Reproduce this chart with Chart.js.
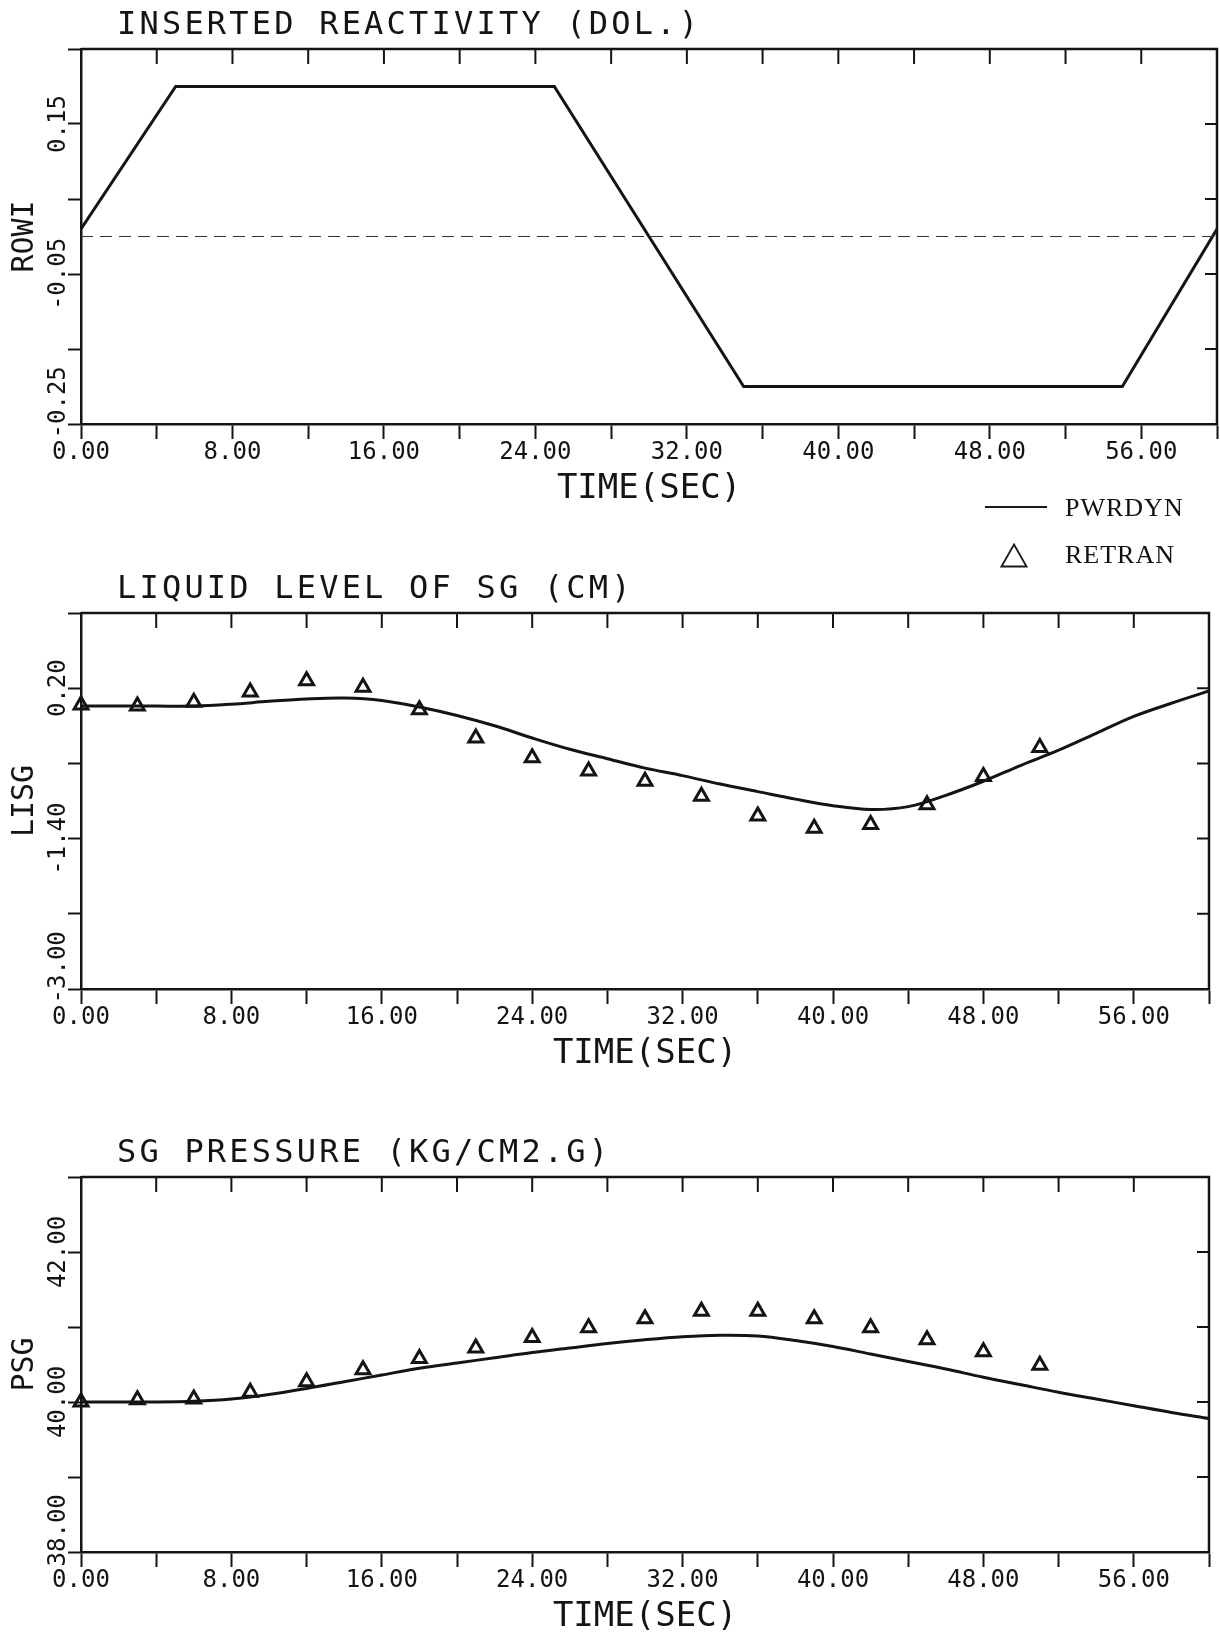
<!DOCTYPE html>
<html>
<head>
<meta charset="utf-8">
<script src="https://cdn.jsdelivr.net/npm/chart.js@4.4.1/dist/chart.umd.min.js"></script>
<style>
html,body{margin:0;padding:0;background:#fff;}
#page{position:relative;width:1220px;height:1634px;overflow:hidden;background:#fff;}
canvas{position:absolute;left:0;}
.lg{position:absolute;font-family:"Liberation Serif",serif;font-size:26px;line-height:31px;color:#111;white-space:nowrap;letter-spacing:1px;}
</style>
</head>
<body>
<div id="page">
  <canvas id="c1" width="1220" height="506" style="top:0px"></canvas>
  <canvas id="c2" width="1220" height="511" style="top:560px"></canvas>
  <canvas id="c3" width="1220" height="514" style="top:1120px"></canvas>
  <div style="position:absolute;left:985px;top:506px;width:62px;border-top:2px solid #1a1a1a;"></div>
  <div class="lg" style="left:1065px;top:492px;">PWRDYN</div>
  <svg style="position:absolute;left:1000px;top:543px" width="28" height="25"><polygon points="14,1.5 26.5,23.5 1.5,23.5" fill="none" stroke="#1a1a1a" stroke-width="1.8"/></svg>
  <div class="lg" style="left:1065px;top:539px;">RETRAN</div>
</div>
<script>
// ---------------- data ----------------
const timeTicks = [0, 4, 8, 12, 16, 20, 24, 28, 32, 36, 40, 44, 48, 52, 56, 60];
const timeTickLabels = ['0.00', '', '8.00', '', '16.00', '', '24.00', '', '32.00', '', '40.00', '', '48.00', '', '56.00', ''];
const timeAxisTitle = 'TIME(SEC)';

// Panel 1: inserted reactivity
const rowiTime = [0, 5, 25, 35, 55, 60];
const rowiValues = [0.01, 0.2, 0.2, -0.2, -0.2, 0.01];
const rowiRefTime = [0, 60];
const rowiRefValues = [0, 0];
const rowiTicks = [-0.25, -0.15, -0.05, 0.05, 0.15, 0.25];
const rowiTickLabels = ['   -0.25', '', '-0.05', '', '0.15', ''];

// Shared time bases
const pwrdynTime = [0, 2, 4, 6, 8, 10, 12, 14, 16, 18, 20, 22, 24, 26, 28, 30, 32, 34, 36, 38, 40, 42, 44, 46, 48, 50, 52, 54, 56, 58, 60];
const retranTime = [0, 3, 6, 9, 12, 15, 18, 21, 24, 27, 30, 33, 36, 39, 42, 45, 48, 51];

// Panel 2: liquid level of SG
const lisgPwrdyn = [0.01, 0.01, 0.01, 0.01, 0.03, 0.06, 0.085, 0.095, 0.07, 0.0, -0.09, -0.2, -0.33, -0.45, -0.55, -0.65, -0.73, -0.82, -0.9, -0.98, -1.05, -1.09, -1.06, -0.94, -0.79, -0.62, -0.46, -0.28, -0.1, 0.04, 0.17];
const lisgRetran = [0.02, 0.01, 0.05, 0.16, 0.28, 0.21, -0.03, -0.33, -0.54, -0.68, -0.79, -0.95, -1.16, -1.29, -1.25, -1.04, -0.74, -0.43];
const lisgTicks = [-3.0, -2.2, -1.4, -0.6, 0.2, 1.0];
const lisgTickLabels = ['   -3.00', '', '-1.40', '', '0.20', ''];

// Panel 3: SG pressure
const psgPwrdyn = [40.0, 40.0, 40.0, 40.01, 40.04, 40.1, 40.18, 40.27, 40.36, 40.45, 40.52, 40.59, 40.66, 40.72, 40.78, 40.83, 40.87, 40.89, 40.88, 40.82, 40.74, 40.64, 40.54, 40.44, 40.33, 40.23, 40.13, 40.04, 39.95, 39.86, 39.78];
const psgRetran = [40.0, 40.03, 40.04, 40.13, 40.27, 40.43, 40.58, 40.72, 40.86, 40.99, 41.11, 41.21, 41.21, 41.11, 40.99, 40.83, 40.67, 40.49];
const psgTicks = [38, 39, 40, 41, 42, 43];
const psgTickLabels = ['   38.00', '', '40.00', '', '42.00', ''];

// ---------------- drawing ----------------
const INK = '#141414';
const MONO = '"DejaVu Sans Mono", monospace';

function pairs(xs, ys) { return xs.map((x, i) => ({ x: x, y: ys[i] })); }

const framePlugin = {
  id: 'frame',
  afterDraw(chart, args, opts) {
    const ctx = chart.ctx, a = chart.chartArea, xs = chart.scales.x, ys = chart.scales.y;
    ctx.save();
    ctx.strokeStyle = INK;
    ctx.lineWidth = 2.5;
    ctx.beginPath();
    ctx.moveTo(a.left, a.top);
    ctx.lineTo(a.right, a.top);
    ctx.lineTo(a.right, a.bottom + 1);
    ctx.stroke();
    ctx.lineWidth = 2;
    ctx.beginPath();
    xs.ticks.forEach(t => {
      const px = xs.getPixelForValue(t.value);
      if (px > a.left + 2 && px < a.right - 2) { ctx.moveTo(px, a.top); ctx.lineTo(px, a.top + 15); }
    });
    ys.ticks.forEach(t => {
      const py = ys.getPixelForValue(t.value);
      if (py > a.top + 2 && py < a.bottom - 2) { ctx.moveTo(a.right, py); ctx.lineTo(a.right - 12, py); }
    });
    ctx.stroke();
    ctx.fillStyle = INK;
    ctx.font = '32px ' + MONO;
    ctx.letterSpacing = '3.2px';
    ctx.textAlign = 'left';
    ctx.textBaseline = 'alphabetic';
    ctx.fillText(opts.text, a.left + 36, a.top - 15);
    ctx.restore();
  }
};

function lineSet(xs, ys, tension) {
  return { data: pairs(xs, ys), borderColor: INK, borderWidth: 3, pointRadius: 0, tension: tension, fill: false };
}
function markSet(xs, ys) {
  return { data: pairs(xs, ys), showLine: false, pointStyle: 'triangle', pointRadius: 8,
    pointBorderWidth: 3, pointBorderColor: INK, pointBackgroundColor: 'rgba(255,255,255,0)', clip: false };
}

function buildChart(id, cfg) {
  return new Chart(document.getElementById(id), {
    type: 'line',
    data: { datasets: cfg.datasets },
    options: {
      responsive: false, animation: false, devicePixelRatio: 1,
      layout: { padding: { top: cfg.padTop, right: 3, left: 0, bottom: 0 } },
      plugins: { legend: { display: false }, tooltip: { enabled: false }, frame: { text: cfg.title } },
      scales: {
        x: {
          type: 'linear', position: 'bottom', min: 0, max: 60,
          afterBuildTicks: s => { s.ticks = timeTicks.map(v => ({ value: v })); },
          afterFit: s => { s.height = 82; },
          ticks: { autoSkip: false, maxRotation: 0, minRotation: 0, padding: 2, color: INK,
            font: { family: MONO, size: 24, lineHeight: 1 }, callback: (v, i) => timeTickLabels[i] },
          grid: { drawOnChartArea: false, drawTicks: true, tickLength: 15, tickWidth: 2, tickColor: INK },
          border: { display: true, color: INK, width: 2.5 },
          title: { display: true, text: timeAxisTitle, color: INK, font: { family: MONO, size: 34, lineHeight: 1 }, padding: { top: 0, bottom: 0 } }
        },
        y: {
          type: 'linear', position: 'left', min: cfg.yMin, max: cfg.yMax,
          afterBuildTicks: s => { s.ticks = cfg.yTicks.map(v => ({ value: v })); },
          afterFit: s => { s.width = 81; },
          ticks: { autoSkip: false, minRotation: 90, maxRotation: 90, crossAlign: 'center', padding: -48.2, color: INK,
            font: { family: MONO, size: 24, lineHeight: 1 }, callback: (v, i) => cfg.yLabels[i] },
          grid: { drawOnChartArea: false, drawTicks: true, tickLength: 13, tickWidth: 2, tickColor: INK },
          border: { display: true, color: INK, width: 2.5 },
          title: { display: true, text: cfg.yTitle, color: INK, font: { family: MONO, size: 30, lineHeight: 1 }, padding: { top: 10, bottom: 0 } }
        }
      }
    },
    plugins: [framePlugin]
  });
}

buildChart('c1', {
  title: 'INSERTED REACTIVITY (DOL.)', yTitle: 'ROWI', padTop: 49,
  yMin: -0.25, yMax: 0.25, yTicks: rowiTicks, yLabels: rowiTickLabels,
  datasets: [
    { data: pairs(rowiRefTime, rowiRefValues), borderColor: '#333', borderWidth: 1.2, borderDash: [12, 7], pointRadius: 0, fill: false },
    lineSet(rowiTime, rowiValues, 0)
  ]
});
buildChart('c2', {
  title: 'LIQUID LEVEL OF SG (CM)', yTitle: 'LISG', padTop: 53,
  yMin: -3.0, yMax: 1.0, yTicks: lisgTicks, yLabels: lisgTickLabels,
  datasets: [ lineSet(pwrdynTime, lisgPwrdyn, 0.35), markSet(retranTime, lisgRetran) ]
});
buildChart('c3', {
  title: 'SG PRESSURE (KG/CM2.G)', yTitle: 'PSG', padTop: 57,
  yMin: 38, yMax: 43, yTicks: psgTicks, yLabels: psgTickLabels,
  datasets: [ lineSet(pwrdynTime, psgPwrdyn, 0.35), markSet(retranTime, psgRetran) ]
});
</script>
</body>
</html>
